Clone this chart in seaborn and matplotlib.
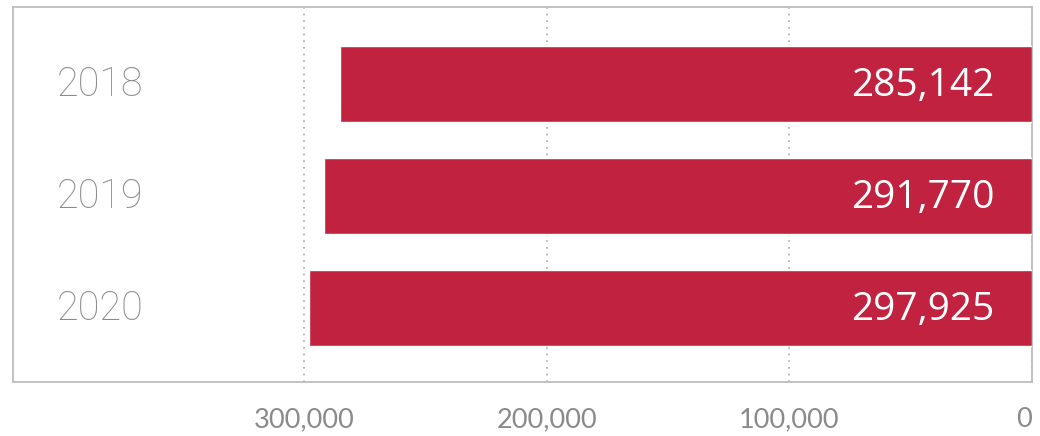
import matplotlib
matplotlib.use("Agg")
import matplotlib.pyplot as plt
import seaborn as sns
import pandas as pd
from matplotlib.ticker import FuncFormatter

years = ["2018", "2019", "2020"]
values = [285142, 291770, 297925]
tick_values = [300000, 200000, 100000, 0]

bar_color = "#C0223F"
frame_color = "#BDBDBD"

sns.set_theme(style="white")
plt.rcParams["font.family"] = ["Open Sans", "DejaVu Sans"]

df = pd.DataFrame({"year": years, "value": values})

fig = plt.figure(figsize=(10.4, 4.36), dpi=100)
ax = fig.add_axes([13 / 1040, 1 - 382 / 436, 1019 / 1040, 375 / 436])

sns.barplot(data=df, x="value", y="year", orient="h", color=bar_color,
            saturation=1, width=0.68, ax=ax, zorder=3)

ax.set_xlim(420000, 0)
ax.set_ylim(2.66, -0.6875)

ax.set_xticks(tick_values)
ax.xaxis.set_major_formatter(FuncFormatter(lambda v, p: f"{int(v):,}"))
ax.tick_params(axis="x", length=0, pad=18, labelsize=19.5, labelcolor="#8A8A8A")
xlabels = ax.get_xticklabels()
for lbl in xlabels:
    lbl.set_fontfamily(["Lato", "DejaVu Sans"])
xlabels[-1].set_horizontalalignment("right")
ax.set_yticks([])
ax.set_xlabel("")
ax.set_ylabel("")

ax.grid(axis="x", linestyle=(0, (1, 3)), color="#AAAAAA", linewidth=1.2, zorder=0)
ax.grid(axis="y", visible=False)
ax.set_axisbelow(True)

for side in ax.spines.values():
    side.set_visible(True)
    side.set_color(frame_color)
    side.set_linewidth(1.3)

# Year names sit inside the plot area on the left
for i, yr in enumerate(years):
    ax.text(0.0854, i + 0.01, yr, transform=ax.get_yaxis_transform(),
            ha="center", va="center", fontsize=28.5, color="#8C8C8C",
            fontfamily=["Roboto", "DejaVu Sans"], fontweight="light")

# Value labels inside each bar, right aligned near the zero end
for i, v in enumerate(values):
    ax.annotate(f"{v:,}", xy=(0, i), xycoords=("data", "data"),
                xytext=(-27, -1.5), textcoords="offset points",
                ha="right", va="center", fontsize=28, color="white")

fig.savefig("out.png", dpi=100)
